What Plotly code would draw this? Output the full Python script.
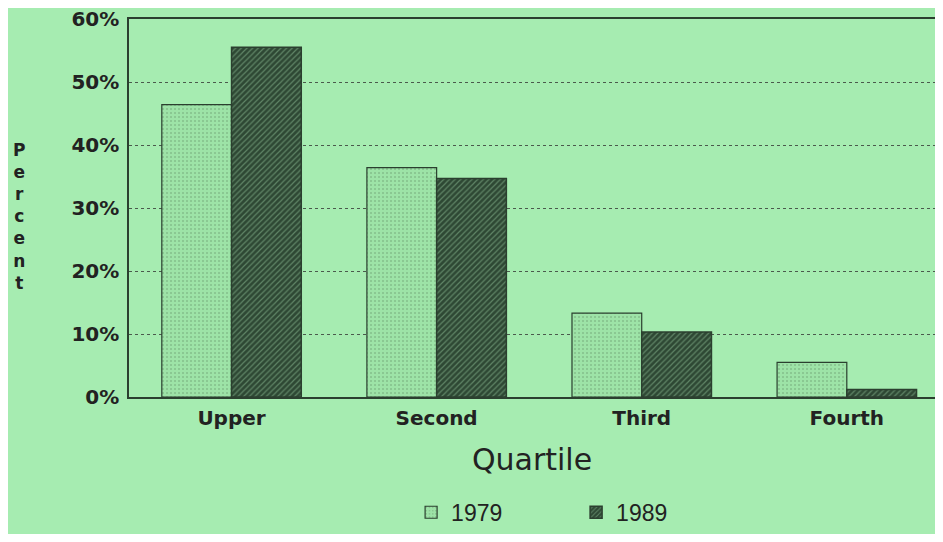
import plotly.graph_objects as go

quartiles = ["Upper", "Second", "Third", "Fourth"]
pct_1979 = [46.4, 36.4, 13.3, 5.5]
pct_1989 = [55.5, 34.7, 10.3, 1.2]
y_ticks = [0, 10, 20, 30, 40, 50, 60]
y_labels = [f"{v}%" for v in y_ticks]

BG = "#a6ecb1"
DARK = "#2b3f2f"

fig = go.Figure()

fig.add_trace(
    go.Bar(
        x=quartiles,
        y=pct_1979,
        name="1979",
        marker=dict(
            color="#9be2a6",
            line=dict(color=DARK, width=1.2),
            pattern=dict(shape=".", fgcolor="#6a9a70", bgcolor="#9de3a7", size=4, solidity=0.2),
        ),
    )
)

fig.add_trace(
    go.Bar(
        x=quartiles,
        y=pct_1989,
        name="1989",
        marker=dict(
            color="#34503a",
            line=dict(color=DARK, width=1.5),
            pattern=dict(shape="/", fgcolor="#8fbf97", bgcolor="#2e4834", size=4, solidity=0.3),
        ),
    )
)

# vertical "Percent" label
fig.add_annotation(
    text="<br>".join("Percent"),
    xref="paper", yref="paper",
    x=-0.147, y=0.478,
    showarrow=False,
    font=dict(family="DejaVu Sans", size=17, color="#222", weight="bold"),
    align="center",
)

fig.update_layout(
    barmode="group",
    bargap=0.32,
    bargroupgap=0,
    paper_bgcolor=BG,
    plot_bgcolor=BG,
    margin=dict(l=121, r=0, t=11, b=137, autoexpand=False),
    font=dict(family="DejaVu Sans", color="#222"),
    xaxis=dict(
        range=[-0.5, 3.43],
        automargin=False,
        showline=True,
        linecolor=DARK,
        linewidth=1.5,
        mirror=True,
        ticks="",
        ticklabelstandoff=2,
        tickfont=dict(size=20, weight="bold", color="#222"),
        title=dict(text="Quartile", font=dict(size=30, color="#222"), standoff=20),
    ),
    yaxis=dict(
        range=[0, 60],
        automargin=False,
        tickvals=y_ticks,
        ticktext=y_labels,
        showline=True,
        linecolor=DARK,
        linewidth=1.5,
        showgrid=True,
        gridcolor="#4a5a4c",
        griddash="dot",
        gridwidth=1,
        zeroline=False,
        ticks="",
        ticklabelstandoff=4,
        ticklabeloverflow="allow",
        tickfont=dict(size=20, weight="bold", color="#222"),
    ),
    legend=dict(
        orientation="h",
        x=0.35,
        xanchor="left",
        y=-0.305,
        yanchor="middle",
        font=dict(family="Liberation Sans", size=23, color="#222"),
        bgcolor="rgba(0,0,0,0)",
        itemwidth=30,
        entrywidth=120,
    ),
)

fig.write_html("out.html")
